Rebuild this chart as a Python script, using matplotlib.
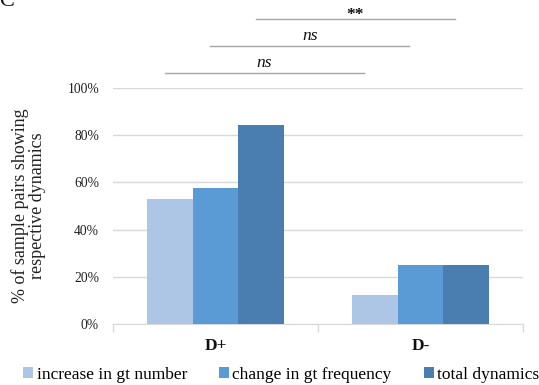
import matplotlib
matplotlib.use("Agg")
import matplotlib.pyplot as plt
from matplotlib.patches import Patch
import numpy as np

categories = ["D+", "D-"]
series_names = ["increase in gt number", "change in gt frequency", "total dynamics"]
increase_gt_number = [53.1, 12.5]
change_gt_frequency = [57.8, 25.0]
total_dynamics = [84.4, 25.0]
yticks = [0, 20, 40, 60, 80, 100]
sig_labels = ["ns", "ns", "**"]

values = [increase_gt_number, change_gt_frequency, total_dynamics]
colors = ["#adc6e6", "#5b9bd5", "#4a7eb0"]

plt.rcParams["font.family"] = ["Liberation Serif", "DejaVu Serif"]

fig = plt.figure(figsize=(5.39, 3.85), dpi=100)
ax = fig.add_axes([113/539, 1-324/385, 410/539, (324-88)/385])

x = np.arange(len(categories))
w = 0.222
offsets = [-w, 0, w]
for vals, off, c in zip(values, offsets, colors):
    ax.bar(x + off, vals, width=w, color=c, edgecolor="none", zorder=3)

ax.set_xlim(-0.5, 1.5)
ax.set_ylim(0, 100)
ax.set_yticks(yticks)
ax.set_yticklabels([f"{t}%" for t in yticks], fontsize=9.8, color="#222222")
ax.yaxis.grid(True, color="#d9d9d9", linewidth=1, zorder=0)
ax.tick_params(axis="y", length=0, pad=10)
ax.set_xticks(x)
ax.set_xticklabels(categories, fontsize=12.5, fontweight="bold", color="#111111")
ax.tick_params(axis="x", length=0, pad=10)
ax.set_xticks([-0.5, 0.5, 1.5], minor=True)
ax.tick_params(axis="x", which="minor", length=6, color="#d9d9d9", width=1)
for s in ["top", "right", "left"]:
    ax.spines[s].set_visible(False)
ax.spines["bottom"].set_color("#d9d9d9")
ax.set_ylabel("% of sample pairs showing\nrespective dynamics", fontsize=13,
              color="#222222", linespacing=1.0, va="center")
ax.yaxis.set_label_coords(-0.205, 0.5)

# significance brackets
line_y = [106.4, 117.8, 129.2]
for off, ly, lab in zip(offsets, line_y, sig_labels):
    x0 = x[0] + off - 0.025
    x1 = x0 + 0.97
    ax.plot([x0, x1], [ly, ly], color="#a6a6a6", linewidth=1, clip_on=False)
    if lab == "ns":
        ax.text((x0 + x1) / 2, ly + 0.8, lab, ha="center", va="bottom",
                fontsize=12.5, style="italic", color="#111111", clip_on=False)
    else:
        ax.text((x0 + x1) / 2, ly - 1.6, lab, ha="center", va="bottom",
                fontsize=12.5, fontweight="bold", color="#111111", clip_on=False)

fig.text(-0.002, 1.02, "C", fontsize=16, ha="left", va="top", color="#111111")

handles = [Patch(facecolor=c, edgecolor="none") for c in colors]
fig.legend(handles, series_names, loc="lower left", bbox_to_anchor=(22/539 - 0.011, -0.012),
           ncol=3, frameon=False, fontsize=12.5, handlelength=0.6, handleheight=0.6,
           handletextpad=0.18, columnspacing=1.84, borderaxespad=0.0)

fig.savefig("out.png", dpi=100)
